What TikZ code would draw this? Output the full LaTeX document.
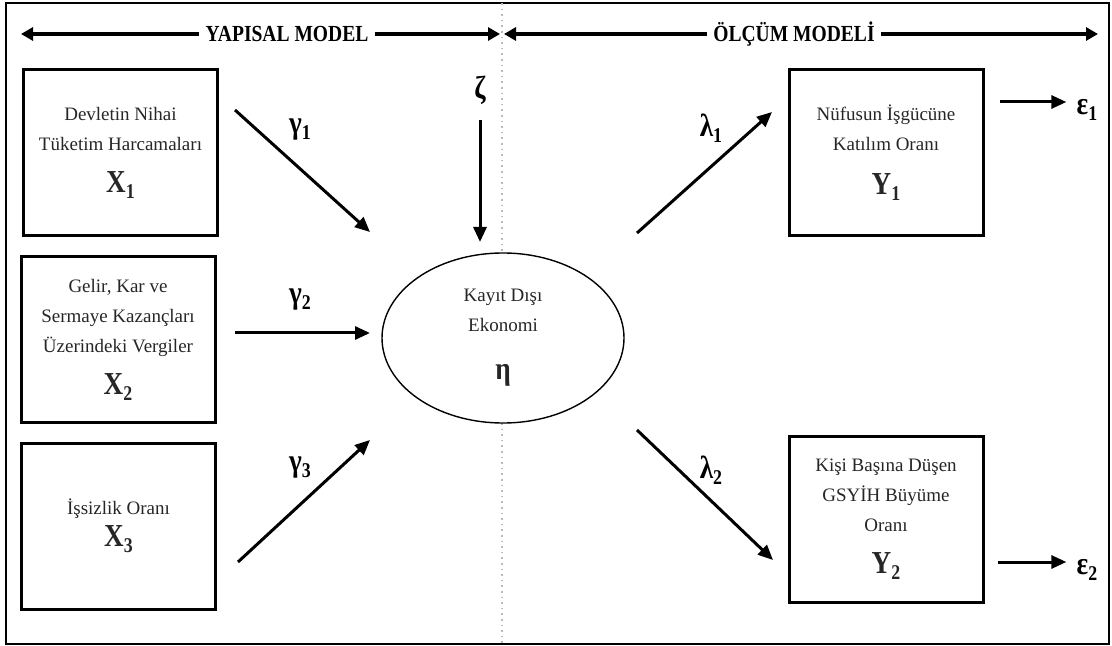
\documentclass[tikz,border=0pt]{standalone}
\usepackage{fontspec}
\setmainfont{Liberation Serif}
\newfontfamily\labfont{Liberation Serif}[FakeStretch=0.85]
\usetikzlibrary{arrows.meta,shapes.geometric}
\newcommand{\varlab}[2]{{\labfont\bfseries\fontsize{16}{16}\selectfont #1\raisebox{-0.4ex}{\fontsize{10.5}{10.5}\selectfont #2}}}

\begin{document}
\begin{tikzpicture}[x=0.5pt,y=-0.5pt,
  box node/.style={draw,line width=1.5pt,minimum width=97pt,minimum height=83pt,align=center,inner sep=0pt,font=\fontsize{9.5}{15}\selectfont,text=black!85},
  latent node/.style={ellipse,draw,line width=0.7pt,fill=white,minimum width=121pt,minimum height=85pt,inner sep=0pt,align=center,font=\fontsize{9.5}{15}\selectfont,text=black!85},
  head node/.style={fill=white,inner sep=3pt,font=\labfont\bfseries\fontsize{11.5}{12}\selectfont},
  coef node/.style={inner sep=0pt},
  path arrow/.style={-{Triangle[length=7.5pt,width=6.5pt]},line width=1.5pt},
  head arrow/.style={-{Triangle[length=6pt,width=6.5pt]},line width=2pt}]

  \useasboundingbox (0,0) rectangle (1112,646);
  \draw[line width=1pt] (6,3) rectangle (1109,644);
  \draw[dotted,gray!55,line width=0.8pt] (502,3) -- (502,644);

  \node[head node] (yap) at (287,34) {YAPISAL MODEL};
  \node[head node] (olc) at (794,34) {ÖLÇÜM MODELİ};
  \coordinate (hl) at (21,34);
  \coordinate (hm1) at (500,34);
  \coordinate (hm2) at (504,34);
  \coordinate (hr) at (1098,34);
  \draw[head arrow] (yap.west) -- (hl);
  \draw[head arrow] (yap.east) -- (hm1);
  \draw[head arrow] (olc.west) -- (hm2);
  \draw[head arrow] (olc.east) -- (hr);

  \node[box node] (x1) at (120.5,153) {Devletin Nihai\\Tüketim Harcamaları\\[6pt]\varlab{X}{1}};
  \node[box node] (x2) at (118,339.5) {Gelir, Kar ve\\Sermaye Kazançları\\Üzerindeki Vergiler\\[6pt]\varlab{X}{2}};
  \node[box node] (x3) at (118.5,526) {İşsizlik Oranı\\[1pt]\varlab{X}{3}};
  \node[latent node] (eta) at (503,338) {Kayıt Dışı\\Ekonomi\\[9pt]\varlab{η}{}};
  \node[box node] (y1) at (886,153) {Nüfusun İşgücüne\\Katılım Oranı\\[7pt]\varlab{Y}{1}};
  \node[box node] (y2) at (886,519.5) {Kişi Başına Düşen\\GSYİH Büyüme\\Oranı\\[6pt]\varlab{Y}{2}};

  \node[coef node] (g1) at (300,130) {\varlab{γ}{1}};
  \node[coef node] (g2) at (300,300) {\varlab{γ}{2}};
  \node[coef node] (g3) at (300,468) {\varlab{γ}{3}};
  \node[coef node] (zeta) at (480,90) {\varlab{ζ}{}};
  \node[coef node] (l1) at (711,128) {\varlab{λ}{1}};
  \node[coef node] (l2) at (711,470) {\varlab{λ}{2}};
  \node[coef node] (e1) at (1087,110) {\varlab{ε}{1}};
  \node[coef node] (e2) at (1087,570) {\varlab{ε}{2}};

  \coordinate (g1s) at (235,110);
  \coordinate (g1e) at (370,232);
  \coordinate (g2s) at (235,333);
  \coordinate (g2e) at (370,333);
  \coordinate (g3s) at (238,562);
  \coordinate (g3e) at (370,440);
  \coordinate (zs) at (480,120);
  \coordinate (ze) at (480,242);
  \coordinate (l1s) at (637,233);
  \coordinate (l1e) at (772,112);
  \coordinate (l2s) at (637,430);
  \coordinate (l2e) at (773,560);
  \coordinate (e1s) at (1000,102);
  \coordinate (e2s) at (998,562);

  \draw[path arrow] (g1s) -- (g1e);
  \draw[path arrow] (g2s) -- (g2e);
  \draw[path arrow] (g3s) -- (g3e);
  \draw[path arrow] (zs) -- (ze);
  \draw[path arrow] (l1s) -- (l1e);
  \draw[path arrow] (l2s) -- (l2e);
  \draw[path arrow,shorten >=5pt] (e1s) -- (e1s -| e1.west);
  \draw[path arrow,shorten >=5pt] (e2s) -- (e2s -| e2.west);
\end{tikzpicture}
\end{document}
